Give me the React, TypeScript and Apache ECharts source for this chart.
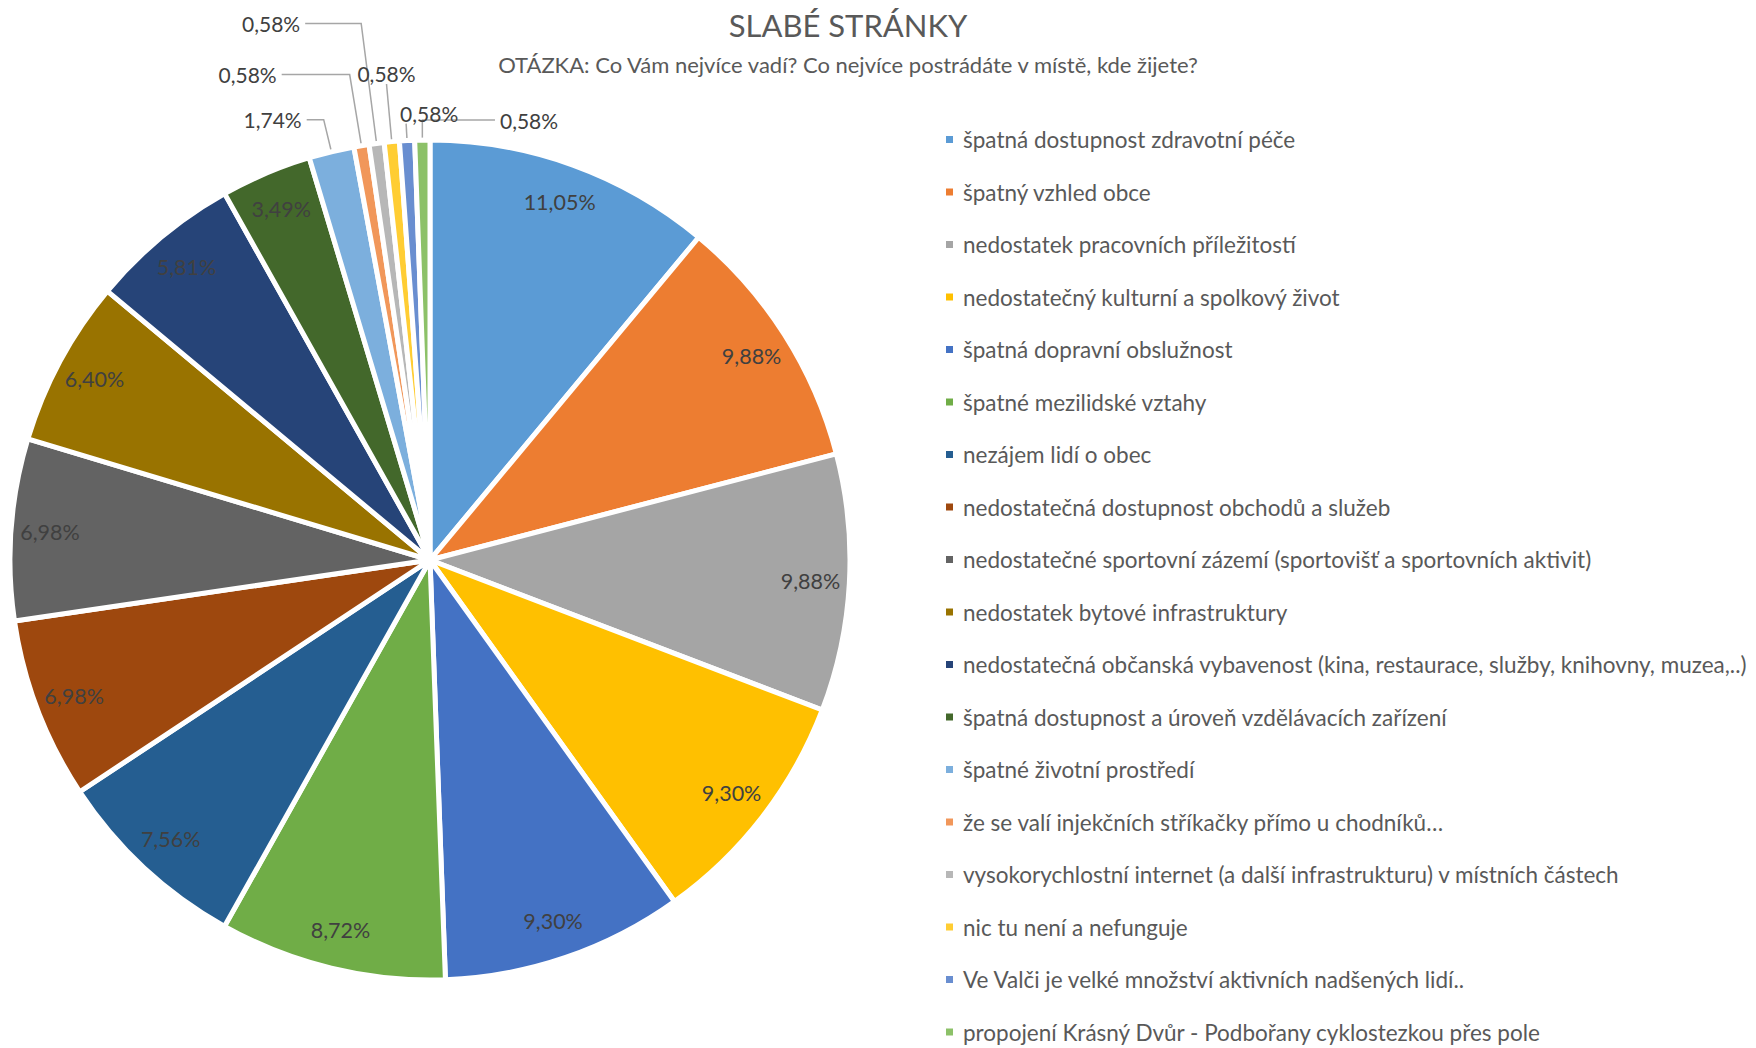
import React, { useEffect, useRef } from "react";
import * as echarts from "echarts";

const titleText = "SLABÉ STRÁNKY";
const subtitleText =
  "OTÁZKA: Co Vám nejvíce vadí? Co nejvíce postrádáte v místě, kde žijete?";

const categories = [
  "špatná dostupnost zdravotní péče",
  "špatný vzhled obce",
  "nedostatek pracovních příležitostí",
  "nedostatečný kulturní a spolkový život",
  "špatná dopravní obslužnost",
  "špatné mezilidské vztahy",
  "nezájem lidí o obec",
  "nedostatečná dostupnost obchodů a služeb",
  "nedostatečné sportovní zázemí (sportovišť a sportovních aktivit)",
  "nedostatek bytové infrastruktury",
  "nedostatečná občanská vybavenost (kina, restaurace, služby, knihovny, muzea,..)",
  "špatná dostupnost a úroveň vzdělávacích zařízení",
  "špatné životní prostředí",
  "že se valí injekčních stříkačky přímo u chodníků…",
  "vysokorychlostní internet (a další infrastrukturu) v místních částech",
  "nic tu není a nefunguje",
  "Ve Valči je velké množství aktivních nadšených lidí..",
  "propojení Krásný Dvůr - Podbořany cyklostezkou přes pole",
];

const shares = [
  11.05, 9.88, 9.88, 9.3, 9.3, 8.72, 7.56, 6.98, 6.98, 6.4, 5.81, 3.49, 1.74,
  0.58, 0.58, 0.58, 0.58, 0.58,
];

const colors = [
  "#5B9BD5", "#ED7D31", "#A5A5A5", "#FFC000", "#4472C4", "#70AD47",
  "#255E91", "#9E480E", "#636363", "#997300", "#264478", "#43682B",
  "#7CAFDD", "#F1975A", "#B7B7B7", "#FFCD33", "#698ED0", "#8CC168",
];

// Leader-line styling for the thin slices whose labels sit outside the pie.
const outsideLabelStyle: Record<
  number,
  { length: number; length2: number; align: string; vAlign: string; dist: number }
> = {
  12: { length: 33, length2: 17, align: "right", vAlign: "middle", dist: 5 },
  13: { length: 72, length2: 68, align: "right", vAlign: "middle", dist: 5 },
  14: { length: 121, length2: 56, align: "right", vAlign: "middle", dist: 5 },
  15: { length: 58, length2: 0, align: "center", vAlign: "bottom", dist: 0 },
  16: { length: 17, length2: 0, align: "left", vAlign: "bottom", dist: 6 },
  17: { length: 20, length2: -73, align: "left", vAlign: "middle", dist: -5 },
};

const FONT = "Lato";
const TEXT_COLOR = "#404040";
const fmt = (v: number) => v.toFixed(2).replace(".", ",") + "%";

export default function App() {
  const ref = useRef<HTMLDivElement>(null);

  useEffect(() => {
    if (!ref.current) return;
    const chart = echarts.init(ref.current, undefined, { renderer: "svg" });

    const center = [430, 560];

    const mainData = categories.map((name, i) => {
      const s = outsideLabelStyle[i];
      return {
        name,
        value: shares[i],
        itemStyle: { color: colors[i] },
        label: s
          ? { show: true, position: "outside", distanceToLabelLine: s.dist }
          : { show: false },
        labelLine: s
          ? { show: true, length: s.length, length2: s.length2 }
          : { show: false },
      };
    });

    const overlayData = categories.map((name, i) => ({
      name,
      value: shares[i],
      label: { show: !outsideLabelStyle[i] },
    }));

    chart.setOption({
      animation: false,
      backgroundColor: "#ffffff",
      textStyle: { fontFamily: FONT },
      title: {
        text: titleText,
        subtext: subtitleText,
        left: 848,
        top: 6,
        padding: 0,
        textAlign: "center",
        itemGap: 8,
        textStyle: {
          fontFamily: FONT,
          fontSize: 31,
          fontWeight: "normal",
          color: "#595959",
          lineHeight: 38,
        },
        subtextStyle: {
          fontFamily: FONT,
          fontSize: 22,
          color: "#595959",
          lineHeight: 24,
        },
      },
      legend: {
        orient: "vertical",
        left: 944,
        top: 128,
        padding: 0,
        itemWidth: 9,
        itemHeight: 9,
        itemGap: 29.5,
        icon: "rect",
        selectedMode: false,
        data: categories,
        textStyle: {
          fontFamily: FONT,
          fontSize: 22.5,
          color: "#595959",
          lineHeight: 23,
          padding: [0, 0, 0, 4],
        },
      },
      series: [
        {
          type: "pie",
          center,
          radius: [0, 420],
          startAngle: 90,
          clockwise: true,
          avoidLabelOverlap: false,
          silent: true,
          itemStyle: { borderColor: "#ffffff", borderWidth: 5 },
          label: {
            fontFamily: FONT,
            fontSize: 21,
            color: TEXT_COLOR,
            formatter: (p: any) => fmt(p.value),
          },
          labelLine: {
            lineStyle: { color: "#A6A6A6", width: 1.5 },
          },
          labelLayout: (params: any) => {
            const s = outsideLabelStyle[params.dataIndex];
            if (!s) return {};
            return { align: s.align, verticalAlign: s.vAlign };
          },
          data: mainData,
        },
        {
          type: "pie",
          center,
          radius: [336, 420],
          startAngle: 90,
          clockwise: true,
          silent: true,
          avoidLabelOverlap: false,
          itemStyle: { color: "rgba(0,0,0,0)", borderWidth: 0 },
          label: {
            position: "inside",
            fontFamily: FONT,
            fontSize: 21.5,
            color: TEXT_COLOR,
            formatter: (p: any) => fmt(p.value),
          },
          labelLine: { show: false },
          data: overlayData,
        },
      ],
    });

    return () => chart.dispose();
  }, []);

  return (
    <div
      ref={ref}
      style={{
        position: "fixed",
        left: 0,
        top: 0,
        width: 1756,
        height: 1048,
        background: "#ffffff",
      }}
    />
  );
}
